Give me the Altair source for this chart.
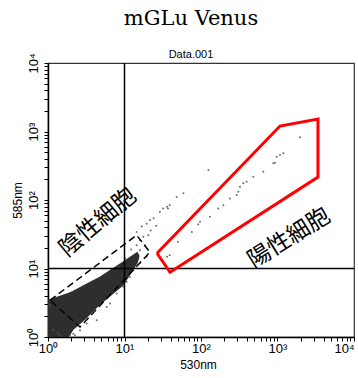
import altair as alt
import pandas as pd

# ---------------- data ----------------
MAJOR_TICKS = [1, 10, 100, 1000, 10000]
TICK_LABELS = ["10⁰", "10¹", "10²", "10³", "10⁴"]
MINOR_MULT = [1, 2, 3, 4, 5, 6, 7, 8, 9]

# dense negative-cell cloud: upper / lower envelope along 530nm
CLOUD_X = [1.0, 1.83, 2.12, 3.05, 4.78, 9.56, 14.6, 15.3]
CLOUD_UPPER = [3.4, 4.3, 4.6, 5.7, 7.4, 12.3, 17.0, 15.5]
CLOUD_LOWER = [1.0, 1.0, 1.3, 1.85, 3.05, 5.8, 12.2, 14.8]

# sparse events
DOT_X = [1968, 1191, 1079, 977, 927, 881, 652, 483, 395, 357, 323, 307, 293, 239, 196, 168,
         131, 97, 92, 76, 50, 125, 59, 48, 39, 36, 32, 37, 29, 24, 21.5, 19.5, 16.8, 14.4,
         39, 36, 15.9, 17.6, 14.4, 19.5, 11.8, 10.7, 7.9, 5.85, 4.33, 3.2, 1.06, 1.17, 1.44,
         2.14, 2.62, 6.46, 9.64, 13.0, 15.9, 18.5, 20.5, 1.35, 1.94, 2.25, 12.2, 16.0, 22.0,
         26.0, 10.2, 8.4]
DOT_Y = [822, 480, 453, 428, 350, 343, 258, 218, 184, 175, 156, 132, 118, 105, 84, 75,
         57, 48, 44, 34, 24.5, 274, 125, 111, 84, 80, 75, 75, 67, 54, 51, 45, 41, 34,
         15.6, 14.8, 25.9, 29, 21.9, 14.8, 7.5, 6.4, 4.3, 2.75, 1.75, 1.57, 2.9, 1.25, 1.06,
         1.12, 1.25, 3.08, 5.4, 9.4, 18.5, 21.9, 30.7, 1.13, 1.07, 1.06, 19.0, 12.0, 36.0,
         42.0, 14.0, 10.5]

# positive gate (red polygon)
POS_GATE_X = [26.6, 1078, 3380, 3380, 39.4, 26.6]
POS_GATE_Y = [16.7, 1202, 1520, 216, 8.8, 16.7]

# negative gate (dashed rectangle)
NEG_GATE_X = [1.06, 14.4, 21.5, 2.62, 1.06]
NEG_GATE_Y = [3.43, 30.7, 17.3, 1.40, 3.43]

LABELS = ["陰性細胞", "陽性細胞"]
LABEL_X = [4.5, 1413]
LABEL_Y = [47.0, 27.7]
LABEL_ANGLE = [320, 328]

# ---------------- tables ----------------
cloud = pd.DataFrame({"x": CLOUD_X, "y": CLOUD_UPPER, "y2": CLOUD_LOWER})
dots = pd.DataFrame({"x": DOT_X, "y": DOT_Y})
pos_gate = pd.DataFrame({"x": POS_GATE_X, "y": POS_GATE_Y, "o": range(len(POS_GATE_X))})
neg_gate = pd.DataFrame({"x": NEG_GATE_X, "y": NEG_GATE_Y, "o": range(len(NEG_GATE_X))})
labels = pd.DataFrame({"t": LABELS, "x": LABEL_X, "y": LABEL_Y, "a": LABEL_ANGLE})
cross = pd.DataFrame({"v": [10]})

tick_values = [m * t for t in MAJOR_TICKS[:-1] for m in MINOR_MULT] + [MAJOR_TICKS[-1]]
label_expr = " : ".join(
    f"datum.value == {v} ? '{l}'" for v, l in zip(MAJOR_TICKS, TICK_LABELS)
) + " : ''"

xscale = alt.Scale(type="log", domain=[1, 10000], nice=False)
yscale = alt.Scale(type="log", domain=[1, 10000], nice=False)

common_axis = dict(
    values=tick_values, labelExpr=label_expr, grid=False, tickSize=4,
    tickColor="black", domainColor="black", domainWidth=1.5, tickWidth=1,
    labelFont="Liberation Sans", labelFontSize=13, labelColor="black",
    titleFont="Liberation Sans", titleFontSize=12, titleFontWeight="normal",
    titleColor="black", labelOverlap=False, labelFlush=False,
)
X_AXIS = alt.Axis(
    title="530nm", labelPadding=1, titlePadding=4, titleX=150,
    labelAlign={"condition": {"test": "datum.value == 10000", "value": "right"}, "value": "center"},
    **common_axis,
)
Y_AXIS = alt.Axis(title="585nm", labelAngle=270, labelAlign="center", labelBaseline="bottom",
                  labelPadding=4, titlePadding=3, **common_axis)

def X(field="x"):
    return alt.X(f"{field}:Q", scale=xscale, axis=X_AXIS)

def Y(field="y"):
    return alt.Y(f"{field}:Q", scale=yscale, axis=Y_AXIS)

cloud_layer = alt.Chart(cloud).mark_area(
    color="#2e2e2e", stroke="#2e2e2e", strokeWidth=1.5, clip=True
).encode(x=X(), y=Y(), y2="y2:Q")

dot_layer = alt.Chart(dots).mark_point(
    filled=True, size=4, color="#555555", opacity=0.85, clip=True
).encode(x=X(), y=Y())

vrule = alt.Chart(cross).mark_rule(color="black", strokeWidth=1.5).encode(x=X("v"))
hrule = alt.Chart(cross).mark_rule(color="black", strokeWidth=1.5).encode(y=Y("v"))

pos_layer = alt.Chart(pos_gate).mark_line(
    color="#ff0000", strokeWidth=3, strokeJoin="miter"
).encode(x=X(), y=Y(), order="o:Q")

neg_layer = alt.Chart(neg_gate).mark_line(
    color="black", strokeWidth=1.5, strokeDash=[7, 4]
).encode(x=X(), y=Y(), order="o:Q")

text_layer = alt.Chart(labels).mark_text(
    font="Noto Sans CJK JP", fontSize=23, color="black"
).encode(x=X(), y=Y(), text="t:N", angle=alt.Angle("a:Q", scale=None))

chart = alt.layer(
    cloud_layer, dot_layer, vrule, hrule, neg_layer, pos_layer, text_layer
).properties(
    width=306, height=274,
    title=alt.TitleParams(
        text="mGLu Venus", subtitle="Data.001",
        font="DejaVu Serif", fontSize=21, fontWeight="normal", color="black",
        subtitleFont="Liberation Sans", subtitleFontSize=11, subtitleColor="black",
        anchor="middle", dx=-10, offset=-7, subtitlePadding=20,
    ),
    autosize=alt.AutoSizeParams(type="none"),
    padding={"left": 48, "top": 63, "right": 4, "bottom": 41},
    background="white",
).configure_view(stroke="#333333", strokeWidth=1.2)

chart.save("out.html", embed_options={"renderer": "svg", "actions": False})
